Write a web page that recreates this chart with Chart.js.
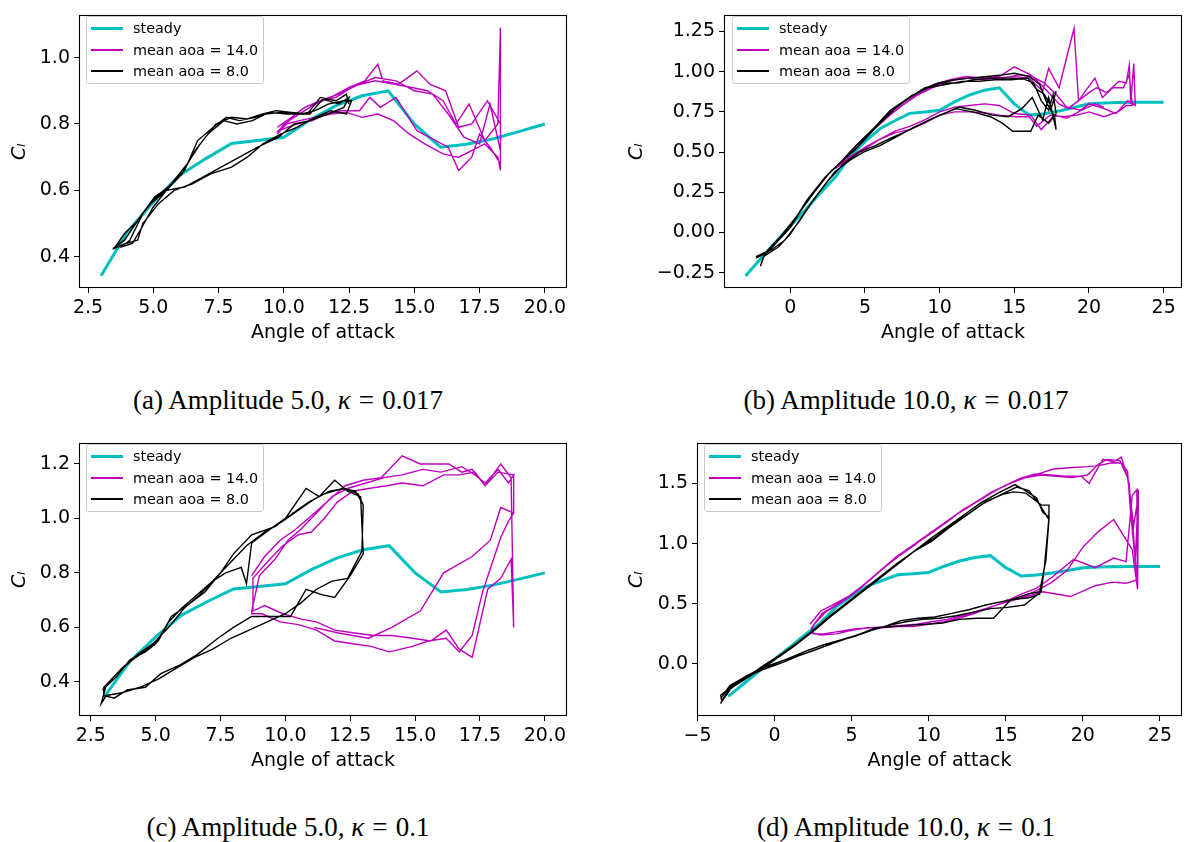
<!DOCTYPE html>
<html>
<head>
<meta charset="utf-8">
<script src="https://cdn.jsdelivr.net/npm/chart.js@4.4.1/dist/chart.umd.min.js"></script>
<style>
  body { margin:0; background:#fff; width:1185px; height:842px; position:relative; overflow:hidden; }
  .panel { position:absolute; }
  canvas { display:block; }
  .legend { position:absolute; border:1px solid #cccccc; border-radius:3px; background:rgba(255,255,255,0.8);
            box-sizing:border-box; font-family:"DejaVu Sans"; font-size:14.4px; color:#000; }
  .legend .hd { position:absolute; left:4px; width:32px; }
  .legend .tx { position:absolute; left:46px; line-height:18px; white-space:nowrap; }
  .caption { position:absolute; font-family:"Liberation Serif"; font-size:27px; color:#000;
             transform:translate(-50%,-50%); white-space:nowrap; }
  .caption .eq { margin:0 0.3em; }
</style>
</head>
<body>
<script>
// ---------------- DATA ----------------
const SERIES_NAMES = ['steady', 'mean aoa = 14.0', 'mean aoa = 8.0'];
const PANEL_CAPTIONS = [
  ['(a) Amplitude ', '5.0', ', ', 'κ', '=', '0.017'],
  ['(b) Amplitude ', '10.0', ', ', 'κ', '=', '0.017'],
  ['(c) Amplitude ', '5.0', ', ', 'κ', '=', '0.1'],
  ['(d) Amplitude ', '10.0', ', ', 'κ', '=', '0.1']
];

// steady lift curve: [angle of attack, Cl]
const STEADY = [[-3,-0.27],[-2,-0.165],[-1,-0.06],[0,0.04],[1,0.14],[2,0.245],[3,0.343],[4,0.474],[5,0.565],
  [6,0.645],[7,0.695],[8,0.741],[9,0.75],[10,0.76],[11,0.812],[12,0.855],[13,0.885],[14,0.9],[15,0.8],
  [16,0.73],[17,0.739],[18,0.755],[19,0.777],[20,0.8],[21,0.806],[22,0.808],[23,0.81],[24,0.81],[25,0.81]];

// (a) amplitude 5, kappa 0.017
const A_MEAN14 = [[9.75,0.79],[10.3,0.82],[10.8,0.85],[11.4,0.87],[12.0,0.88],[12.7,0.915],[13.5,0.93],[14.2,0.92],
  [14.9,0.91],[15.5,0.90],[16.1,0.87],[16.6,0.80],[17.1,0.86],[17.7,0.75],[18.2,0.80],[18.3,1.09],[18.3,0.66],
  [18.2,0.70],[17.7,0.74],[17.2,0.72],[16.7,0.70],[16.1,0.71],[15.4,0.74],[14.8,0.77],[14.2,0.81],[13.6,0.83],
  [13.0,0.82],[12.4,0.835],[11.8,0.83],[11.2,0.82],[10.6,0.81],[10.1,0.80],[9.75,0.77],
  [10.0,0.80],[10.6,0.83],[11.2,0.86],[11.8,0.88],[12.5,0.91],[13.1,0.93],[13.6,0.98],[13.8,0.93],[14.4,0.92],
  [15.1,0.96],[15.6,0.92],[16.2,0.90],[16.7,0.79],[17.2,0.80],[17.8,0.87],[18.3,0.80],[18.3,0.68],
  [17.9,0.73],[17.5,0.77],[17.2,0.70],[16.7,0.66],[16.3,0.73],[15.1,0.78],[14.3,0.88],[13.7,0.85],[13.3,0.88],
  [12.9,0.84],[12.2,0.84],[11.6,0.83],[11.1,0.81],[10.5,0.80],[9.8,0.78],
  [10.2,0.81],[10.8,0.84],[11.4,0.87],[12.1,0.89],[12.9,0.92],[13.5,0.94],[14.3,0.93],[15.0,0.90],[15.7,0.89],
  [16.3,0.83],[16.9,0.76],[17.5,0.74],[17.9,0.86],[18.3,0.72]];
const A_MEAN8 = [[3.45,0.425],[3.9,0.45],[4.5,0.52],[5.05,0.58],[5.6,0.61],[6.2,0.66],[6.7,0.75],[7.3,0.79],
  [7.8,0.82],[8.3,0.81],[8.9,0.82],[9.5,0.835],[10.1,0.83],[10.7,0.83],[11.2,0.84],[11.7,0.86],[12.3,0.87],[12.6,0.87],
  [12.4,0.83],[11.8,0.84],[11.2,0.82],[10.5,0.79],[9.9,0.77],[9.2,0.74],[8.6,0.70],[8.0,0.67],[7.2,0.65],
  [6.5,0.62],[5.8,0.60],[5.2,0.56],[4.6,0.50],[4.4,0.45],[3.95,0.44],[3.5,0.425],
  [3.9,0.47],[4.3,0.50],[4.9,0.56],[5.5,0.60],[6.1,0.65],[6.6,0.72],[7.1,0.77],[7.7,0.81],[8.2,0.80],[8.8,0.81],
  [9.3,0.83],[9.9,0.835],[10.4,0.83],[11.0,0.83],[11.5,0.875],[12.1,0.86],[12.5,0.88],
  [12.3,0.85],[11.7,0.83],[11.0,0.81],[10.4,0.80],[9.8,0.76],[9.0,0.73],[8.3,0.70],[7.6,0.67],[6.9,0.64],
  [6.2,0.61],[5.5,0.60],[5.0,0.55],[4.5,0.48],[4.2,0.44],[3.8,0.43],
  [4.1,0.45],[4.6,0.53],[5.0,0.57],[5.7,0.62],[6.3,0.68],[6.8,0.74],[7.4,0.80],[8.0,0.82],[8.6,0.815],[9.2,0.83],
  [9.7,0.84],[10.3,0.835],[10.9,0.83],[11.4,0.88],[12.0,0.87],[12.4,0.89],[12.5,0.86]];

// (b) amplitude 10, kappa 0.017
const B_MEAN14 = [[3.0,0.40],[4.2,0.52],[5.3,0.62],[6.4,0.71],[7.5,0.79],[8.6,0.86],[9.6,0.92],[10.7,0.95],
  [11.8,0.97],[12.9,0.96],[14.0,0.97],[15.0,1.03],[16.1,0.98],[16.9,0.91],[17.5,0.85],[18.0,0.80],[18.6,0.77],
  [19.3,0.82],[20.0,0.87],[20.5,0.90],[21.2,0.87],[22.0,0.94],[22.5,0.93],[22.7,1.04],[22.8,0.80],[23.0,1.05],[23.1,0.79],
  [22.6,0.82],[21.9,0.75],[21.0,0.72],[20.0,0.75],[19.2,0.73],[18.3,0.72],[17.4,0.73],[16.5,0.66],[16.0,0.72],
  [15.1,0.72],[14.0,0.73],[13.0,0.745],[12.0,0.75],[11.0,0.75],[10.0,0.73],[9.0,0.68],[8.0,0.64],[7.0,0.62],
  [6.0,0.58],[5.0,0.53],[4.0,0.47],[3.0,0.40],
  [4.0,0.50],[5.1,0.60],[6.2,0.69],[7.3,0.78],[8.4,0.85],[9.5,0.90],[10.6,0.94],[11.7,0.96],[12.8,0.95],
  [13.9,0.96],[14.9,0.97],[16.0,0.96],[16.9,0.88],[17.3,1.02],[18.0,0.90],[19.0,1.27],[19.3,0.82],[20.4,0.96],
  [20.9,0.84],[21.6,0.90],[22.3,0.90],[22.7,0.98],[22.9,0.79],
  [22.5,0.79],[21.8,0.74],[21.0,0.77],[20.0,0.80],[19.3,0.75],[18.5,0.71],[17.7,0.73],[16.8,0.64],[16.1,0.73],
  [15.0,0.74],[14.0,0.79],[13.0,0.80],[12.0,0.79],[11.0,0.78],[10.0,0.75],[9.0,0.70],[8.0,0.66],[7.0,0.63],
  [6.0,0.58],[5.0,0.52],[4.0,0.46],[3.2,0.41],
  [4.3,0.53],[5.4,0.63],[6.5,0.72],[7.6,0.80],[8.7,0.87],[9.8,0.92],[10.9,0.95],[12.0,0.96],[13.1,0.965],
  [14.2,0.96],[15.3,0.98],[16.2,0.97],[17.0,0.93],[17.8,0.86],[18.5,0.78],[19.5,0.76],[20.4,0.80],[21.0,0.78]];
const B_MEAN8 = [[-2.3,-0.16],[-1.5,-0.12],[-0.8,-0.05],[0,0.03],[1.0,0.18],[2.2,0.33],[3.3,0.43],[4.3,0.53],
  [5.5,0.64],[6.6,0.74],[7.7,0.82],[8.9,0.89],[9.9,0.93],[11.0,0.95],[12.0,0.96],[13.2,0.97],[14.2,0.98],
  [15.0,0.99],[16.0,0.97],[16.7,0.92],[17.2,0.80],[17.7,0.72],[17.8,0.64],
  [17.3,0.84],[16.9,0.70],[16.2,0.84],[15.5,0.77],[14.6,0.72],[13.5,0.73],[12.4,0.76],[11.3,0.78],[10.3,0.74],
  [9.3,0.70],[8.2,0.65],[7.2,0.60],[6.0,0.54],[4.9,0.50],[4.0,0.45],[3.0,0.38],[2.0,0.26],[1.0,0.13],[0,-0.01],
  [-0.8,-0.09],[-1.8,-0.15],[-2.0,-0.21],
  [-1.7,-0.13],[-0.9,-0.06],[0.1,0.05],[1.1,0.20],[2.3,0.34],[3.4,0.44],[4.4,0.52],[5.6,0.65],[6.7,0.76],
  [7.8,0.83],[9.0,0.90],[10.1,0.93],[11.2,0.93],[12.3,0.95],[13.5,0.96],[14.6,0.96],[15.6,0.955],[16.3,0.93],
  [16.8,0.82],[17.3,0.76],[17.6,0.86],[17.8,0.74],
  [17.3,0.68],[16.6,0.73],[16.1,0.63],[14.9,0.63],[14.2,0.68],[13.4,0.72],[12.2,0.75],[11.1,0.77],[10.0,0.73],
  [8.9,0.68],[7.8,0.63],[6.8,0.59],[5.7,0.54],[4.6,0.50],[3.6,0.43],[2.6,0.33],[1.6,0.21],[0.6,0.07],
  [-0.4,-0.05],[-1.3,-0.11],[-2.3,-0.15],
  [-1.6,-0.12],[-0.6,-0.02],[0.5,0.11],[1.6,0.25],[2.7,0.38],[3.8,0.47],[4.8,0.56],[5.9,0.67],[7.0,0.77],
  [8.1,0.85],[9.2,0.90],[10.4,0.92],[11.5,0.94],[12.6,0.94],[13.7,0.95],[14.8,0.95],[15.9,0.96],[16.5,0.89],
  [17.0,0.86],[17.5,0.78],[17.8,0.88]];

// (c) amplitude 5, kappa 0.1
const C_MEAN14 = [[8.7,0.79],[9.2,0.86],[9.8,0.92],[10.4,0.96],[11.0,1.01],[11.6,1.06],[12.3,1.12],[13.0,1.14],
  [13.7,1.15],[14.5,1.23],[15.2,1.20],[15.8,1.20],[16.3,1.20],[16.8,1.17],[17.2,1.18],[17.7,1.12],[18.3,1.20],
  [18.7,1.15],[18.8,0.60],
  [18.7,0.85],[18.3,0.78],[17.8,0.74],[17.2,0.49],[16.7,0.52],[16.2,0.59],[15.6,0.55],[14.9,0.56],[14.1,0.57],
  [13.4,0.57],[12.6,0.58],[11.9,0.59],[11.2,0.62],[10.6,0.63],[9.9,0.65],[9.2,0.68],[8.75,0.66],
  [8.75,0.78],[9.3,0.84],[9.9,0.90],[10.5,0.94],[11.0,0.95],[11.5,1.00],[12.0,1.06],[12.6,1.10],[13.2,1.11],
  [13.9,1.12],[14.5,1.13],[15.3,1.12],[16.1,1.16],[16.7,1.16],[17.3,1.17],[17.7,1.12],[18.2,1.17],[18.8,1.16],[18.8,1.02],
  [18.6,0.99],[18.3,0.93],[17.6,0.73],[17.2,0.57],[16.7,0.51],[16.2,0.56],[15.5,0.55],[14.9,0.53],[14.0,0.51],
  [13.3,0.53],[12.6,0.54],[11.9,0.55],[11.2,0.59],[10.5,0.61],[9.8,0.62],[9.1,0.65],[8.7,0.65],
  [8.7,0.66],[9.0,0.79],[9.6,0.85],[10.1,0.92],[10.6,0.96],[11.2,1.02],[11.8,1.08],[12.4,1.11],[13.1,1.13],
  [13.8,1.15],[14.5,1.16],[15.3,1.18],[16.0,1.17],[16.8,1.19],[17.3,1.16],[17.7,1.13],[18.2,1.18],[18.6,1.13],
  [18.8,1.16],[18.8,1.02],
  [18.3,1.04],[17.9,0.92],[17.2,0.86],[16.1,0.80],[15.2,0.66],[14.1,0.60],[13.2,0.56],[12.0,0.58],[11.1,0.60]];
const C_MEAN8 = [[2.95,0.37],[3.5,0.42],[4.0,0.48],[4.6,0.51],[5.0,0.54],[5.5,0.62],[6.0,0.67],[6.6,0.72],
  [7.2,0.77],[7.7,0.80],[8.3,0.82],[8.5,0.76],[8.7,0.91],[9.4,0.96],[10.0,1.00],[10.8,1.11],[11.3,1.08],
  [11.9,1.14],[12.4,1.10],[12.9,1.08],[13.0,0.87],
  [12.5,0.79],[11.9,0.71],[11.4,0.72],[10.8,0.74],[10.2,0.64],[9.4,0.64],[8.7,0.64],[8.0,0.60],[7.4,0.56],
  [6.6,0.50],[5.9,0.46],[5.2,0.43],[4.6,0.38],[3.9,0.37],[3.4,0.34],[3.0,0.35],
  [3.0,0.38],[3.6,0.44],[4.1,0.48],[4.7,0.52],[5.1,0.55],[5.6,0.64],[6.2,0.68],[6.9,0.73],[7.5,0.80],
  [8.0,0.87],[8.7,0.94],[9.6,0.97],[10.3,1.02],[10.9,1.06],[11.5,1.09],[12.2,1.11],[12.7,1.10],[13.0,1.05],[12.95,0.88],
  [12.4,0.78],[11.8,0.77],[11.2,0.74],[10.6,0.69],[10.0,0.65],[9.3,0.62],[8.6,0.59],[7.9,0.56],[7.2,0.52],
  [6.5,0.49],[5.8,0.45],[5.1,0.41],[4.4,0.38],[3.7,0.36],[3.1,0.35],[2.9,0.32],
  [3.1,0.39],[3.7,0.45],[4.3,0.50],[4.9,0.54],[5.5,0.60],[6.1,0.67],[6.7,0.72],[7.3,0.78],[7.9,0.84],
  [8.5,0.90],[9.2,0.95],[9.9,0.99],[10.5,1.03],[11.1,1.07],[11.7,1.10],[12.3,1.11],[12.8,1.09],[13.0,1.05]];

// (d) amplitude 10, kappa 0.1
const D_MEAN14 = [[2.3,0.33],[3.0,0.44],[3.9,0.50],[4.9,0.57],[5.9,0.67],[6.9,0.78],[7.9,0.89],[8.9,0.98],
  [9.9,1.07],[10.9,1.16],[11.9,1.25],[12.9,1.33],[13.9,1.41],[14.9,1.48],[15.9,1.54],[16.9,1.58],[17.9,1.57],
  [18.9,1.56],[19.9,1.56],[20.4,1.50],[21.3,1.70],[22.0,1.68],[22.5,1.72],[23.0,1.50],[23.3,1.05],[23.55,0.62],
  [23.5,1.45],[23.2,1.40],[22.8,0.85],[22.0,0.88],[20.8,0.80],[19.4,0.87],[18.0,0.72],[17.0,0.63],[16.0,0.58],
  [15.0,0.52],[14.0,0.47],[13.0,0.42],[12.0,0.38],[11.0,0.35],[10.0,0.33],[9.0,0.31],[8.0,0.31],[7.0,0.30],
  [6.0,0.30],[5.0,0.28],[4.0,0.25],[3.0,0.24],[2.4,0.26],
  [2.4,0.30],[3.1,0.42],[4.1,0.50],[5.1,0.58],[6.1,0.69],[7.1,0.80],[8.1,0.90],[9.1,0.99],[10.1,1.09],
  [11.1,1.18],[12.1,1.27],[13.1,1.35],[14.1,1.43],[15.1,1.49],[16.1,1.55],[17.1,1.58],[18.1,1.62],[19.1,1.63],
  [20.3,1.64],[21.1,1.65],[21.8,1.67],[22.5,1.67],[22.9,1.60],[23.1,1.25],[23.4,0.85],[23.6,1.45],[23.55,0.70],
  [22.8,0.67],[21.9,0.68],[20.8,0.65],[19.2,0.56],[17.4,0.60],[16.4,0.56],[15.2,0.52],[14.2,0.48],[13.2,0.44],
  [12.2,0.40],[11.2,0.37],[10.2,0.35],[9.2,0.33],[8.2,0.32],[7.2,0.31],[6.2,0.30],[5.2,0.29],[4.2,0.27],
  [3.2,0.25],[2.5,0.25],
  [2.5,0.32],[3.3,0.43],[4.3,0.51],[5.3,0.60],[6.3,0.71],[7.3,0.82],[8.3,0.92],[9.3,1.01],[10.3,1.10],
  [11.3,1.19],[12.3,1.29],[13.3,1.36],[14.3,1.44],[15.3,1.50],[16.3,1.55],[17.3,1.57],[18.3,1.56],[19.3,1.55],
  [20.3,1.57],[21.0,1.66],[21.6,1.70],[22.4,1.69],[22.9,1.55],[23.3,1.15],[23.6,1.40],[23.55,0.62],
  [23.2,0.95],[22.0,1.20],[21.0,1.10],[20.0,0.97],[19.0,0.78],[18.0,0.68],[17.0,0.61],[16.0,0.55],[15.0,0.53]];
const D_MEAN8 = [[-3.5,-0.29],[-2.9,-0.18],[-1.8,-0.10],[-0.8,-0.03],[0.3,0.06],[1.3,0.15],[2.4,0.27],[3.5,0.38],
  [4.6,0.49],[5.7,0.60],[6.8,0.71],[7.9,0.82],[9.0,0.93],[10.1,1.04],[11.2,1.14],[12.3,1.24],[13.4,1.34],
  [14.5,1.42],[15.6,1.49],[16.4,1.43],[17.0,1.38],[17.4,1.26],[17.8,1.22],[17.6,0.90],[17.3,0.60],
  [16.2,0.49],[15.1,0.47],[14.0,0.46],[12.9,0.43],[11.8,0.40],[10.7,0.38],[9.6,0.37],[8.5,0.35],[7.4,0.32],
  [6.3,0.28],[5.2,0.23],[4.1,0.19],[3.0,0.15],[1.9,0.10],[0.8,0.04],[-0.3,-0.01],[-1.4,-0.08],[-2.5,-0.16],[-3.5,-0.26],
  [-3.4,-0.31],[-2.8,-0.20],[-1.7,-0.11],[-0.6,-0.02],[0.5,0.08],[1.6,0.18],[2.7,0.29],[3.8,0.41],[4.9,0.52],
  [6.0,0.63],[7.1,0.74],[8.2,0.85],[9.3,0.96],[10.4,1.05],[11.5,1.16],[12.6,1.25],[13.7,1.35],[14.8,1.41],
  [15.5,1.43],[16.3,1.42],[16.9,1.36],[17.3,1.32],[17.8,1.32],[17.8,1.21],[17.5,0.80],[17.2,0.58],
  [16.5,0.55],[15.7,0.54],[14.8,0.52],[13.7,0.49],[12.6,0.45],[11.5,0.42],[10.4,0.39],[9.3,0.38],[8.2,0.36],
  [7.1,0.31],[6.0,0.27],[4.9,0.22],[3.8,0.17],[2.7,0.12],[1.6,0.07],[0.5,0.01],[-0.6,-0.04],[-1.7,-0.10],
  [-2.9,-0.19],[-3.5,-0.33],
  [-3.0,-0.22],[-1.9,-0.12],[-0.8,-0.02],[0.3,0.07],[1.4,0.17],[2.5,0.28],[3.6,0.40],[4.7,0.51],[5.8,0.62],
  [6.9,0.73],[8.0,0.84],[9.1,0.94],[10.2,1.02],[11.3,1.13],[12.4,1.23],[13.5,1.33],[14.6,1.40],[15.7,1.47],
  [16.5,1.44],[17.1,1.34],[17.6,1.24],[17.8,1.20],[17.6,0.86],[17.2,0.60],
  [16.4,0.58],[15.3,0.53],[14.2,0.38],[13.1,0.38],[12.0,0.37],[10.9,0.34],[9.8,0.33],[8.7,0.32],[7.6,0.31],
  [6.5,0.30],[5.4,0.24],[4.3,0.20],[3.2,0.16],[2.1,0.11],[1.0,0.05],[0.0,0.0],[-1.0,-0.05]];

// tick values and labels
const X_TICKS_5 = [2.5,5,7.5,10,12.5,15,17.5,20];
const X_LABELS_5 = ['2.5','5.0','7.5','10.0','12.5','15.0','17.5','20.0'];
const X_TICKS_B = [0,5,10,15,20,25];
const X_LABELS_B = ['0','5','10','15','20','25'];
const X_TICKS_D = [-5,0,5,10,15,20,25];
const X_LABELS_D = ['\u22125','0','5','10','15','20','25'];
const Y_TICKS_A = [0.4,0.6,0.8,1.0];
const Y_LABELS_A = ['0.4','0.6','0.8','1.0'];
const Y_TICKS_B = [-0.25,0,0.25,0.5,0.75,1.0,1.25];
const Y_LABELS_B = ['\u22120.25','0.00','0.25','0.50','0.75','1.00','1.25'];
const Y_TICKS_C = [0.4,0.6,0.8,1.0,1.2];
const Y_LABELS_C = ['0.4','0.6','0.8','1.0','1.2'];
const Y_TICKS_D = [0,0.5,1.0,1.5];
const Y_LABELS_D = ['0.0','0.5','1.0','1.5'];

// ---------------- RENDERING ----------------
const COLORS = ['#00bfbf', '#bf00bf', '#000000'];
const WIDTHS = [3, 1.4, 1.4];
const FONT = 'DejaVu Sans';

const framePlugin = {
  id: 'frame',
  afterDraw(chart) {
    const a = chart.chartArea, ctx = chart.ctx;
    ctx.save();
    ctx.strokeStyle = '#000';
    ctx.lineWidth = 1.1;
    ctx.strokeRect(Math.round(a.left) + 0.5, Math.round(a.top) + 0.5,
                   Math.round(a.right - a.left) - 1, Math.round(a.bottom - a.top) - 1);
    ctx.restore();
  }
};

function labeller(vals, labels) {
  return v => { const i = vals.findIndex(t => Math.abs(t - v) < 1e-9); return i >= 0 ? labels[i] : ''; };
}

function toPts(arr, lo, hi) {
  return arr.filter(p => p[0] >= lo && p[0] <= hi).map(p => ({x: p[0], y: p[1]}));
}

function axisCommon(ticksVals, ticksLabels) {
  return {
    type: 'linear',
    afterBuildTicks: s => { s.ticks = ticksVals.map(v => ({value: v})); },
    ticks: { callback: labeller(ticksVals, ticksLabels), autoSkip: false, maxRotation: 0,
             color: '#000', font: {family: FONT, size: 19}, padding: 4 },
    grid: { drawOnChartArea: false, drawTicks: true, tickLength: 5, color: '#000', tickColor: '#000', lineWidth: 1 },
    border: { display: false }
  };
}

function makePanel(p) {
  const div = document.createElement('div');
  div.className = 'panel';
  div.style.left = p.left + 'px'; div.style.top = p.top + 'px';
  const cv = document.createElement('canvas');
  cv.width = p.w; cv.height = p.h;
  cv.style.width = p.w + 'px'; cv.style.height = p.h + 'px';
  div.appendChild(cv);
  document.body.appendChild(div);

  const seriesData = [toPts(STEADY, p.steadyRange[0], p.steadyRange[1]), toPts(p.m14, -99, 99), toPts(p.m8, -99, 99)];
  const datasets = seriesData.map((d, i) => ({
    label: SERIES_NAMES[i], data: d, showLine: true, borderColor: COLORS[i], backgroundColor: COLORS[i],
    borderWidth: WIDTHS[i], pointRadius: 0, tension: 0, order: 3 - i
  }));

  const xAxis = axisCommon(p.xTicks, p.xLabels);
  Object.assign(xAxis, { min: p.xMin, max: p.xMax,
    afterFit: s => { s.height = p.h - p.area.b; },
    title: { display: true, text: 'Angle of attack', color: '#000', font: {family: FONT, size: 19},
             padding: {top: 0, bottom: 5.5} } });
  const yAxis = axisCommon(p.yTicks, p.yLabels);
  Object.assign(yAxis, { min: p.yMin, max: p.yMax,
    afterFit: s => { s.width = p.area.l; },
    title: { display: true, text: 'C\u2097', color: '#000', font: {family: FONT, size: 19, style: 'italic'},
             padding: {top: p.yTitleX - 11.4, bottom: 0} } });

  const chart = new Chart(cv, {
    type: 'scatter',
    data: { datasets },
    options: {
      responsive: false, animation: false, devicePixelRatio: 1,
      layout: { padding: { left: 0, top: p.area.t, right: p.w - p.area.r, bottom: 0 } },
      plugins: { legend: { display: false }, tooltip: { enabled: false } },
      scales: { x: xAxis, y: yAxis }
    },
    plugins: [framePlugin]
  });

  // legend box built from the chart's datasets
  const lg = document.createElement('div');
  lg.className = 'legend';
  lg.style.left = p.legend[0] + 'px'; lg.style.top = p.legend[1] + 'px';
  lg.style.width = '178px'; lg.style.height = '68px';
  chart.data.datasets.forEach((ds, i) => {
    const cy = 11 + Math.round(i * 21.5);
    const hh = ds.borderWidth > 2 ? 3 : 2;
    const hd = document.createElement('div');
    hd.className = 'hd';
    hd.style.top = (cy - Math.floor(hh / 2)) + 'px';
    hd.style.height = hh + 'px';
    hd.style.backgroundColor = COLORS[i];
    const tx = document.createElement('div');
    tx.className = 'tx';
    tx.style.top = (cy - 9) + 'px';
    tx.textContent = ds.label;
    lg.appendChild(hd); lg.appendChild(tx);
  });
  document.body.appendChild(lg);
}

function makeCaption(parts, cx, cy) {
  const d = document.createElement('div');
  d.className = 'caption';
  d.style.left = cx + 'px'; d.style.top = cy + 'px';
  parts.forEach(t => {
    const s = document.createElement('span');
    s.textContent = t;
    if (t === 'κ') s.style.fontStyle = 'italic';
    if (t === '=') s.className = 'eq';
    d.appendChild(s);
  });
  document.body.appendChild(d);
}

makePanel({ left: 0, top: 0, w: 590, h: 350, area: {l: 79, t: 8, r: 567, b: 288}, yTitleX: 20,
  xMin: 2.155, xMax: 20.85, yMin: 0.306, yMax: 1.127, steadyRange: [3, 20],
  xTicks: X_TICKS_5, xLabels: X_LABELS_5, yTicks: Y_TICKS_A, yLabels: Y_LABELS_A,
  m14: A_MEAN14, m8: A_MEAN8, legend: [86, 16] });
makePanel({ left: 590, top: 0, w: 595, h: 350, area: {l: 134, t: 8, r: 592, b: 288}, yTitleX: 47,
  xMin: -4.44, xMax: 26.23, yMin: -0.345, yMax: 1.35, steadyRange: [-3, 25],
  xTicks: X_TICKS_B, xLabels: X_LABELS_B, yTicks: Y_TICKS_B, yLabels: Y_LABELS_B,
  m14: B_MEAN14, m8: B_MEAN8, legend: [732, 16] });
makePanel({ left: 0, top: 428, w: 590, h: 350, area: {l: 79, t: 8, r: 567, b: 288}, yTitleX: 20,
  xMin: 2.045, xMax: 20.855, yMin: 0.2745, yMax: 1.2755, steadyRange: [3, 20],
  xTicks: X_TICKS_5, xLabels: X_LABELS_5, yTicks: Y_TICKS_C, yLabels: Y_LABELS_C,
  m14: C_MEAN14, m8: C_MEAN8, legend: [86, 444] });
makePanel({ left: 590, top: 428, w: 595, h: 350, area: {l: 107, t: 8, r: 592, b: 288}, yTitleX: 47,
  xMin: -5.03, xMax: 26.43, yMin: -0.433, yMax: 1.833, steadyRange: [-3, 25],
  xTicks: X_TICKS_D, xLabels: X_LABELS_D, yTicks: Y_TICKS_D, yLabels: Y_LABELS_D,
  m14: D_MEAN14, m8: D_MEAN8, legend: [704, 444] });

makeCaption(PANEL_CAPTIONS[0], 288, 400);
makeCaption(PANEL_CAPTIONS[1], 906, 400);
makeCaption(PANEL_CAPTIONS[2], 288, 827);
makeCaption(PANEL_CAPTIONS[3], 906, 827);
</script>
</body>
</html>
